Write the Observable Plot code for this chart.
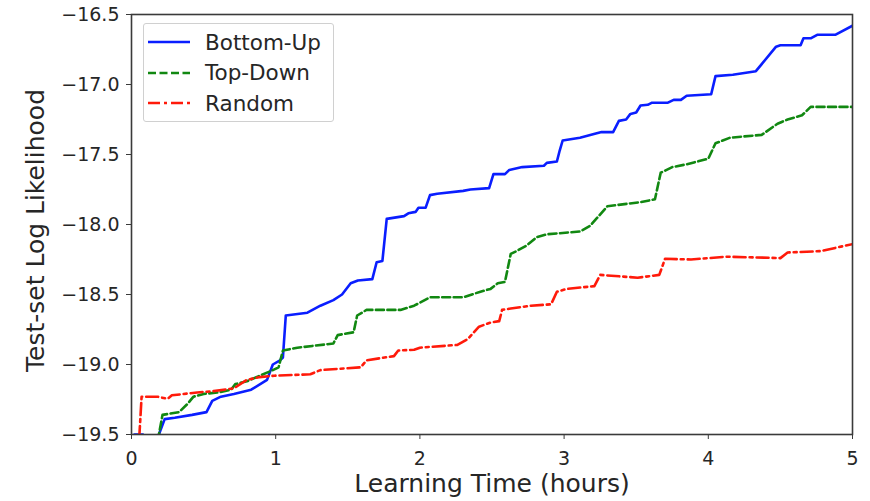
<!DOCTYPE html>
<html>
<head>
<meta charset="utf-8">
<script src="https://cdn.jsdelivr.net/npm/d3@7"></script>
<script src="https://cdn.jsdelivr.net/npm/@observablehq/plot@0.6"></script>
<style>
  html, body { margin: 0; padding: 0; background: white; }
  #wrap { position: relative; width: 870px; height: 501px; font-family: "DejaVu Sans", sans-serif; }
  #legend { position: absolute; left: 143px; top: 23px; width: 191px; height: 99px;
    border: 1px solid #d0d0d0; border-radius: 3px; background: rgba(255,255,255,0.85); box-sizing: border-box; }
  .row { position: absolute; left: 0; height: 30px; display: flex; align-items: center; }
  .row svg { margin-left: 4px; }
  .row span { margin-left: 15px; font-size: 21.5px; color: #262626; }
</style>
</head>
<body>
<div id="wrap"></div>
<script>
const seriesNames = ["Bottom-Up", "Top-Down", "Random"];
const seriesColors = ["#0a1eff", "#118811", "#ff1a0a"];
const seriesDash = [null, "8,3.5", "12,4,3,4"];
const xTicks = [0, 1, 2, 3, 4, 5];
const yTicks = [-19.5, -19.0, -18.5, -18.0, -17.5, -17.0, -16.5];

const bottomUp = [[0.02,-19.50],[0.08,-19.50],[0.11,-19.56],[0.16,-19.56],[0.19,-19.50],[0.23,-19.39],[0.30,-19.38],[0.42,-19.36],[0.52,-19.34],[0.56,-19.26],[0.62,-19.23],[0.71,-19.21],[0.83,-19.18],[0.94,-19.11],[0.98,-19.00],[1.03,-18.97],[1.05,-18.95],[1.07,-18.65],[1.22,-18.63],[1.31,-18.58],[1.40,-18.54],[1.46,-18.50],[1.52,-18.42],[1.57,-18.40],[1.67,-18.39],[1.70,-18.27],[1.74,-18.26],[1.77,-17.96],[1.89,-17.94],[1.92,-17.92],[1.97,-17.91],[1.99,-17.88],[2.04,-17.88],[2.07,-17.79],[2.12,-17.78],[2.30,-17.76],[2.35,-17.75],[2.48,-17.74],[2.51,-17.64],[2.59,-17.64],[2.62,-17.61],[2.71,-17.59],[2.86,-17.58],[2.88,-17.56],[2.95,-17.55],[2.97,-17.47],[2.99,-17.40],[3.11,-17.38],[3.22,-17.35],[3.26,-17.34],[3.34,-17.34],[3.38,-17.26],[3.43,-17.25],[3.46,-17.21],[3.50,-17.20],[3.53,-17.15],[3.58,-17.145],[3.61,-17.13],[3.72,-17.13],[3.76,-17.11],[3.81,-17.11],[3.85,-17.08],[4.02,-17.07],[4.05,-16.94],[4.17,-16.93],[4.33,-16.905],[4.47,-16.73],[4.50,-16.72],[4.64,-16.72],[4.66,-16.67],[4.71,-16.67],[4.755,-16.645],[4.88,-16.645],[5.00,-16.58]];

const topDown = [[0.15,-19.52],[0.19,-19.50],[0.215,-19.36],[0.33,-19.34],[0.39,-19.28],[0.43,-19.23],[0.50,-19.21],[0.60,-19.20],[0.69,-19.18],[0.72,-19.14],[0.80,-19.12],[0.89,-19.08],[0.98,-19.04],[1.02,-19.02],[1.05,-18.90],[1.15,-18.88],[1.40,-18.85],[1.43,-18.79],[1.54,-18.77],[1.565,-18.65],[1.63,-18.61],[1.865,-18.61],[1.96,-18.58],[2.07,-18.52],[2.30,-18.52],[2.42,-18.48],[2.49,-18.46],[2.54,-18.42],[2.59,-18.41],[2.63,-18.21],[2.67,-18.19],[2.74,-18.15],[2.81,-18.09],[2.88,-18.07],[3.11,-18.05],[3.18,-18.01],[3.24,-17.94],[3.30,-17.87],[3.53,-17.84],[3.63,-17.82],[3.67,-17.63],[3.75,-17.59],[3.85,-17.57],[4.00,-17.53],[4.05,-17.42],[4.15,-17.38],[4.37,-17.36],[4.48,-17.28],[4.55,-17.25],[4.65,-17.22],[4.71,-17.16],[5.00,-17.16]];

const random = [[0.04,-19.52],[0.055,-19.50],[0.07,-19.23],[0.18,-19.23],[0.25,-19.245],[0.28,-19.22],[0.455,-19.20],[0.57,-19.19],[0.71,-19.17],[0.80,-19.11],[0.89,-19.09],[0.99,-19.08],[1.24,-19.07],[1.31,-19.04],[1.59,-19.02],[1.63,-18.97],[1.82,-18.94],[1.85,-18.90],[1.96,-18.895],[2.00,-18.88],[2.26,-18.86],[2.33,-18.82],[2.41,-18.73],[2.49,-18.70],[2.55,-18.69],[2.57,-18.61],[2.63,-18.60],[2.77,-18.58],[2.91,-18.57],[2.95,-18.48],[3.02,-18.46],[3.21,-18.44],[3.25,-18.36],[3.51,-18.38],[3.66,-18.36],[3.70,-18.245],[3.88,-18.25],[4.13,-18.23],[4.50,-18.24],[4.55,-18.20],[4.78,-18.19],[5.00,-18.14]];

const allSeries = [bottomUp, topDown, random];

const lineMarks = allSeries.map((s, i) => Plot.line(s, {
  x: d => d[0], y: d => d[1],
  stroke: seriesColors[i], strokeWidth: 2.6,
  strokeDasharray: seriesDash[i] || undefined,
  clip: true
}));

const chart = Plot.plot({
  width: 870, height: 501,
  marginLeft: 131, marginRight: 18, marginTop: 14, marginBottom: 67,
  style: { fontFamily: "DejaVu Sans, sans-serif", fontSize: "19px", color: "#262626", background: "white" },
  x: { domain: [0, 5] },
  y: { domain: [-19.5, -16.5] },
  marks: [
    ...lineMarks,
    Plot.frame({ stroke: "#3a3a3a", strokeWidth: 1.6 }),
    Plot.axisX(xTicks, { tickSize: 5, tickPadding: 12, tickFormat: d3.format("d"), fontSize: 19, label: null, stroke: "#3a3a3a" }),
    Plot.axisY(yTicks, { tickSize: 5, tickPadding: 7, tickFormat: d3.format(".1f"), fontSize: 19, label: null, stroke: "#3a3a3a" }),
    Plot.text(["Learning Time (hours)"], { frameAnchor: "bottom", dy: 57, fontSize: 25, fill: "#262626" }),
    Plot.text(["Test-set Log Likelihood"], { frameAnchor: "left", textAnchor: "middle", dx: -96, dy: 6, rotate: -90, fontSize: 25, fill: "#262626" })
  ]
});

const wrap = document.getElementById("wrap");
wrap.appendChild(chart);

const legend = document.createElement("div");
legend.id = "legend";
seriesNames.forEach((name, i) => {
  const row = document.createElement("div");
  row.className = "row";
  row.style.top = (3 + i * 30.5) + "px";
  const dash = seriesDash[i] ? `stroke-dasharray="${seriesDash[i]}"` : "";
  row.innerHTML = `<svg width="42" height="10"><line x1="0" y1="5" x2="42" y2="5" stroke="${seriesColors[i]}" stroke-width="2.6" ${dash}/></svg><span>${name}</span>`;
  legend.appendChild(row);
});
wrap.appendChild(legend);
</script>
</body>
</html>
